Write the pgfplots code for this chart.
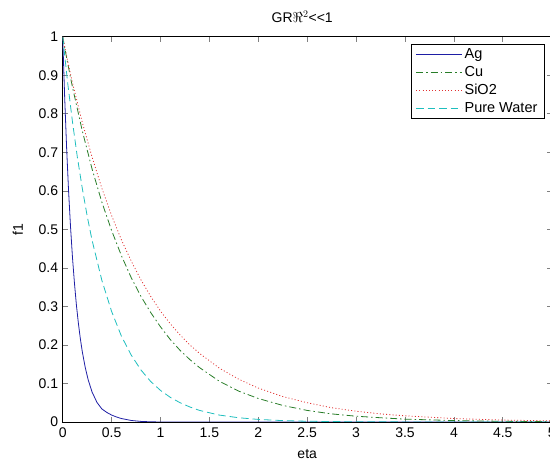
\documentclass[border=0pt]{standalone}
\usepackage{fontspec}
\setmainfont{Liberation Sans}
\usepackage{pgfplots}
\pgfplotsset{compat=1.18}
\definecolor{cAg}{RGB}{30,30,165}
\definecolor{cCu}{RGB}{40,125,40}
\definecolor{cSi}{RGB}{225,50,50}
\definecolor{cPW}{RGB}{30,190,190}
\begin{document}
\begin{tikzpicture}
\begin{axis}[
  at={(0pt,0pt)}, anchor=south west,
  width=489pt, height=385.3pt, scale only axis,
  xmin=0, xmax=5, ymin=0, ymax=1,
  xtick={0,0.5,1,1.5,2,2.5,3,3.5,4,4.5,5},
  ytick={0,0.1,0.2,0.3,0.4,0.5,0.6,0.7,0.8,0.9,1},
  yticklabels={0,0.1,0.2,0.3,0.4,0.5,0.6,0.7,0.8,0.9,1},
  xticklabels={0,0.5,1,1.5,2,2.5,3,3.5,4,4.5,5},
  tick align=inside, major tick length=5pt,
  xtick pos=both, ytick pos=both,
  axis line style={line width=0.6pt},
  tick style={line width=0.6pt},
  ticklabel style={font=\fontsize{14}{16}\selectfont},
  xticklabel style={yshift=-2.3pt},
  yticklabel style={xshift=-1pt},
  xlabel={eta}, ylabel={f1},
  every axis x label/.style={at={(axis description cs:0.5,0)}, anchor=base, yshift=-37pt, font=\fontsize{14}{16}\selectfont},
  every axis y label/.style={at={(axis description cs:-0.0916,0.5)}, rotate=90, anchor=center, font=\fontsize{14}{16}\selectfont},
  title={GR$\Re^2$<\kern0pt<1},
  every axis title/.style={at={(axis description cs:0.5,1)}, anchor=base, yshift=13.7pt, xshift=-5pt, font=\fontsize{14}{16}\selectfont},
  legend style={at={(1,1)}, anchor=north east, xshift=-7pt, yshift=-7.3pt,
    line width=0.6pt,
    inner xsep=5pt, inner ysep=2.5pt, row sep=2.2pt,
    font=\fontsize{14.5}{16}\selectfont},
  legend cell align=left,
  legend image code/.code={\draw[#1] (0pt,0pt) -- (46pt,0pt);},
]
\addplot[color=cAg, line width=0.8pt] coordinates {
(0,1) (0.02,0.844) (0.04,0.712) (0.06,0.600) (0.08,0.507) (0.10,0.427)
(0.12,0.361) (0.14,0.304) (0.16,0.257) (0.18,0.217) (0.20,0.183)
(0.23,0.142) (0.26,0.110) (0.30,0.078) (0.35,0.051) (0.40,0.034)
(0.45,0.025) (0.50,0.018) (0.55,0.013) (0.60,0.009) (0.70,0.004)
(0.80,0.0015) (0.90,0.0005) (1.00,0) (5.00,0)};
\addlegendentry{Ag}
\addplot[color=cCu, line width=0.8pt, dash pattern=on 7pt off 3pt on 1.5pt off 3pt] coordinates {
(0,1) (0.05,0.932) (0.10,0.869) (0.20,0.756) (0.30,0.657) (0.40,0.571)
(0.50,0.497) (0.60,0.432) (0.70,0.375) (0.80,0.326) (0.90,0.284)
(1.00,0.247) (1.10,0.214) (1.20,0.186) (1.30,0.162) (1.40,0.141)
(1.60,0.106) (1.80,0.080) (2.00,0.061) (2.25,0.043) (2.50,0.030)
(2.75,0.021) (3.00,0.015) (3.25,0.011) (3.50,0.0074) (4.00,0.0037)
(4.50,0.0018) (5.00,0.0009)};
\addlegendentry{Cu}
\addplot[color=cSi, line width=0.8pt, dash pattern=on 1pt off 2.2pt] coordinates {
(0,1) (0.05,0.938) (0.10,0.880) (0.20,0.778) (0.30,0.688) (0.40,0.607)
(0.50,0.536) (0.60,0.473) (0.70,0.418) (0.80,0.369) (0.90,0.326)
(1.00,0.288) (1.10,0.255) (1.20,0.226) (1.30,0.200) (1.40,0.178)
(1.60,0.140) (1.80,0.111) (2.00,0.088) (2.25,0.066) (2.50,0.050)
(2.75,0.037) (3.00,0.028) (3.25,0.021) (3.50,0.016) (4.00,0.009)
(4.50,0.005) (5.00,0.003)};
\addlegendentry{SiO2}
\addplot[color=cPW, line width=0.8pt, dash pattern=on 7.5pt off 4pt] coordinates {
(0,1) (0.05,0.882) (0.10,0.779) (0.15,0.687) (0.20,0.607) (0.25,0.535)
(0.30,0.472) (0.40,0.368) (0.50,0.287) (0.60,0.223) (0.70,0.174)
(0.80,0.135) (0.90,0.105) (1.00,0.082) (1.10,0.064) (1.20,0.050)
(1.30,0.039) (1.40,0.030) (1.60,0.018) (1.80,0.011) (2.00,0.0067)
(2.25,0.0036) (2.50,0.0019) (3.00,0.0006) (3.50,0.0002) (4.00,0.0001)
(5.00,0)};
\addlegendentry{Pure Water}
\end{axis}
\pgfresetboundingbox
\useasboundingbox (-62.7pt,-40pt) rectangle (487.3pt,422pt);
\end{tikzpicture}
\end{document}
